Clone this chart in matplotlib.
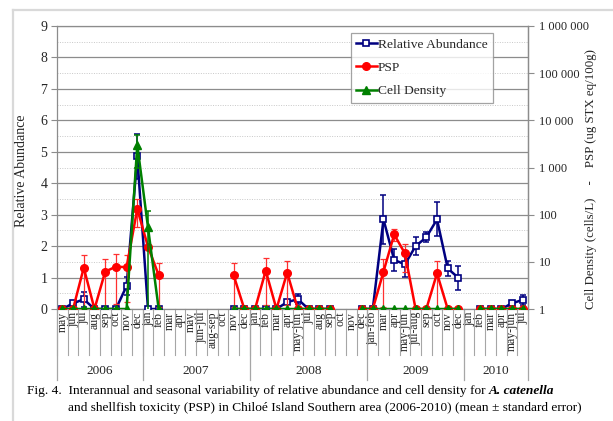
import numpy as np
import matplotlib
matplotlib.use('Agg')
import matplotlib.pyplot as plt
from matplotlib.lines import Line2D
from matplotlib.ticker import FixedLocator, FuncFormatter, MultipleLocator, NullLocator

nan = np.nan

years = ['2006', '2007', '2008', '2009', '2010']
months_2006 = ['may', 'jun', 'jul', 'aug', 'sep', 'oct', 'nov', 'dec']
months_2007 = ['jan', 'feb', 'mar', 'apr', 'may', 'jun-jul', 'aug-sep', 'oct', 'nov', 'dec']
months_2008 = ['jan', 'feb', 'mar', 'apr', 'may-jun', 'jul', 'aug', 'sep', 'oct', 'nov', 'dec']
months_2009 = ['jan-feb', 'mar', 'apr', 'may-jun', 'jul-aug', 'sep', 'oct', 'nov', 'dec']
months_2010 = ['jan', 'feb', 'mar', 'apr', 'may-jun', 'jul']

# relative abundance (left axis)
rel_abund = [0, 0.18, 0.31, 0, 0, 0, 0.73, 4.85,
             0, 0, nan, nan, nan, nan, nan, nan, 0, 0,
             0, 0, 0, 0.22, 0.31, 0, 0, 0, nan, nan, 0,
             0, 2.85, 1.56, 1.42, 2.0, 2.28, 2.85, 1.29, 0.99,
             nan, 0, 0, 0, 0.18, 0.29]
rel_abund_se = [0, 0.05, 0.24, 0, 0, 0, 0.3, 0.7,
                0, 0, 0, 0, 0, 0, 0, 0, 0, 0,
                0, 0, 0, 0.06, 0.16, 0, 0, 0, 0, 0, 0,
                0, 0.79, 0.35, 0.4, 0.28, 0.16, 0.54, 0.24, 0.38,
                0, 0, 0, 0, 0.05, 0.16]

# PSP, ug STX eq/100g (right axis, 1 = not detected)
psp = [1, 1, 7.5, 1, 6.2, 7.9, 7.7, 132,
       21, 5.2, nan, nan, nan, nan, nan, nan, 5.2, 1,
       1, 6.5, 1, 5.9, 1, 1, 1, 1, nan, nan, 1,
       1, 6.2, 38, 15.1, 1, 1, 5.7, 1, 1,
       nan, 1, 1, 1, 1, 1]
psp_se = [0, 0, 6.5, 0, 5.3, 6.6, 6.3, 78,
          0, 4.1, 0, 0, 0, 0, 0, 0, 4.1, 0,
          0, 5.3, 0, 4.7, 0, 0, 0, 0, 0, 0, 0,
          0, 5.1, 10.6, 9, 0, 0, 4.9, 0, 0,
          0, 0, 0, 0, 0, 0]

# cell density, cells/L (right axis, 1 = not detected)
cell_density = [1, 1, 1, 1, 1, 1, 1, 3000,
                54, 1, nan, nan, nan, nan, nan, nan, 1, 1,
                1, 1, 1, 1, 1, 1, 1, 1, nan, nan, 1,
                1, 1, 1, 1, 1, 1, 1, 1, 1,
                nan, 1, 1, 1, 1, 1]
cell_density_se = [0, 0, 0, 0, 0, 0, 0, 2000,
                   63, 0, 0, 0, 0, 0, 0, 0, 0, 0,
                   0, 0, 0, 0, 0, 0, 0, 0, 0, 0, 0,
                   0, 0, 0, 0, 0, 0, 0, 0, 0,
                   0, 0, 0, 0, 0, 0]

groups = [months_2006, months_2007, months_2008, months_2009, months_2010]
labels = [m for g in groups for m in g]
x = np.arange(len(labels))

plt.rcParams['font.family'] = ['Liberation Serif', 'DejaVu Serif']
txt_col = '#262626'
grid_col = '#8c8c8c'

fig = plt.figure(figsize=(6.13, 4.21), dpi=100)
W, H = 613, 421
ax = fig.add_axes([57 / W, 1 - 309 / H, (528 - 57) / W, (309 - 26) / H])
ax2 = ax.twinx()

navy = '#000080'
red = '#ff0000'
green = '#008000'


def only_err(vals, se):
    vals = np.asarray(vals, float)
    se = np.asarray(se, float)
    return np.where(se > 0, vals, nan), se


# relative abundance
ry, re = only_err(rel_abund, rel_abund_se)
ax.errorbar(x, ry, yerr=re, fmt='none', ecolor=navy, elinewidth=1.1, capsize=2.5, capthick=1.1, zorder=3)
ax.plot(x, rel_abund, color=navy, lw=1.8, marker='s', ms=5, mfc='white', mec=navy, mew=1.2, zorder=4)

# PSP and cell density on log axis
py, pe = only_err(psp, psp_se)
ax2.errorbar(x, py, yerr=pe, fmt='none', ecolor='#ff3030', elinewidth=0.9, capsize=2.5, capthick=0.9, zorder=3)
ax2.plot(x, psp, color=red, lw=1.8, marker='o', ms=5.5, mfc=red, mec=red, zorder=4)
cy, ce = only_err(cell_density, cell_density_se)
ax2.errorbar(x, cy, yerr=ce, fmt='none', ecolor=green, elinewidth=1.1, capsize=2.5, capthick=1.1, zorder=5)
ax2.plot(x, cell_density, color=green, lw=1.8, marker='^', ms=5.5, mfc=green, mec=green, zorder=6)

ax.set_xlim(-0.5, len(labels) - 0.5)
ax.set_ylim(0, 9)
ax2.set_yscale('log', nonpositive='clip')
ax2.set_ylim(1, 1e6)

# grid: solid at whole units, dotted at halves
ax.yaxis.set_major_locator(MultipleLocator(1))
ax.yaxis.set_minor_locator(MultipleLocator(0.5))
ax.grid(axis='y', which='major', color=grid_col, lw=0.9)
ax.grid(axis='y', which='minor', color='#c8c8c8', lw=0.7, ls=(0, (1, 1.5)))
ax.set_axisbelow(True)

ax.tick_params(axis='y', which='major', direction='out', length=4, color=grid_col,
               labelsize=10, labelcolor=txt_col, pad=3)
ax.tick_params(axis='y', which='minor', length=0)

ax2.yaxis.set_major_locator(FixedLocator([1, 10, 100, 1e3, 1e4, 1e5, 1e6]))
ax2.yaxis.set_minor_locator(NullLocator())
ax2.yaxis.set_major_formatter(FuncFormatter(lambda v, p: f'{int(round(v)):,}'.replace(',', ' ')))
ax2.tick_params(axis='y', direction='out', length=4, color=grid_col, labelsize=9,
                labelcolor=txt_col, pad=4)

for a in (ax, ax2):
    for s in a.spines.values():
        s.set_color(grid_col)
        s.set_linewidth(0.9)
ax2.spines['bottom'].set_visible(False)
ax2.spines['top'].set_visible(False)
ax2.spines['left'].set_visible(False)

# category labels
ax.set_xticks(x)
ax.set_xticklabels(labels, rotation=90, fontsize=8.5, color=txt_col, va='top')
ax.tick_params(axis='x', length=0, pad=2)

# separators under the axis
xt = ax.get_xaxis_transform()
bounds = np.cumsum([0] + [len(g) for g in groups]) - 0.5
for b in np.arange(-0.5, len(labels), 1.0):
    ax.plot([b, b], [0, -46 / 283], transform=xt, color='#a6a6a6', lw=0.8, clip_on=False)
for b in bounds:
    ax.plot([b, b], [0, -71 / 283], transform=xt, color='#a6a6a6', lw=0.9, clip_on=False)
for i, yr in enumerate(years):
    ax.text((bounds[i] + bounds[i + 1]) / 2, -62 / 283, yr, transform=xt,
            ha='center', va='center', fontsize=9.5, color=txt_col)

# legend
handles = [
    Line2D([], [], color=navy, lw=1.8, marker='s', ms=5, mfc='white', mec=navy, mew=1.2),
    Line2D([], [], color=red, lw=1.8, marker='o', ms=5.5, mfc=red, mec=red),
    Line2D([], [], color=green, lw=1.8, marker='^', ms=5.5, mfc=green, mec=green),
]
leg = ax2.legend(handles, ['Relative Abundance', 'PSP', 'Cell Density'],
                 loc='upper left', bbox_to_anchor=(351 / W, 1 - 33 / H), bbox_transform=fig.transFigure,
                 borderaxespad=0, fontsize=9.7, frameon=True, fancybox=False, handlelength=1.5,
                 handletextpad=0.1, labelspacing=0.8, borderpad=0.4, labelcolor=txt_col)
leg.get_frame().set_edgecolor('#8c8c8c')
leg.get_frame().set_linewidth(0.9)

# axis titles
fig.text(22 / W, 1 - 171 / H, 'Relative Abundance', rotation=90, ha='center', va='center',
         fontsize=10, color=txt_col)
fig.text(591 / W, 1 - 179 / H, 'Cell Density (cells/L)    -    PSP (ug STX eq/100g)',
         rotation=90, ha='center', va='center', fontsize=9.3, color=txt_col)

# outer frame
fig.add_artist(Line2D([13 / W, 13 / W], [0, 1 - 10 / H], color='#d9d9d9', lw=1.6))
fig.add_artist(Line2D([13 / W, 1], [1 - 10 / H, 1 - 10 / H], color='#d9d9d9', lw=1.6))

# caption
r = fig.canvas.get_renderer()
t1 = fig.text(27 / W, 1 - 391 / H,
              'Fig. 4.  Interannual and seasonal variability of relative abundance and cell density for ',
              ha='left', va='center', fontsize=9.6, color='black')
bb = t1.get_window_extent(renderer=r)
fig.text(bb.x1 / W, 1 - 391 / H, 'A. catenella', ha='left', va='center', fontsize=9.6,
         fontweight='bold', fontstyle='italic', color='black')
fig.text(68 / W, 1 - 408 / H,
         'and shellfish toxicity (PSP) in Chilo\u00e9 Island Southern area (2006-2010) (mean \u00b1 standard error)',
         ha='left', va='center', fontsize=9.6, color='black')

fig.savefig('out.png', dpi=100)
